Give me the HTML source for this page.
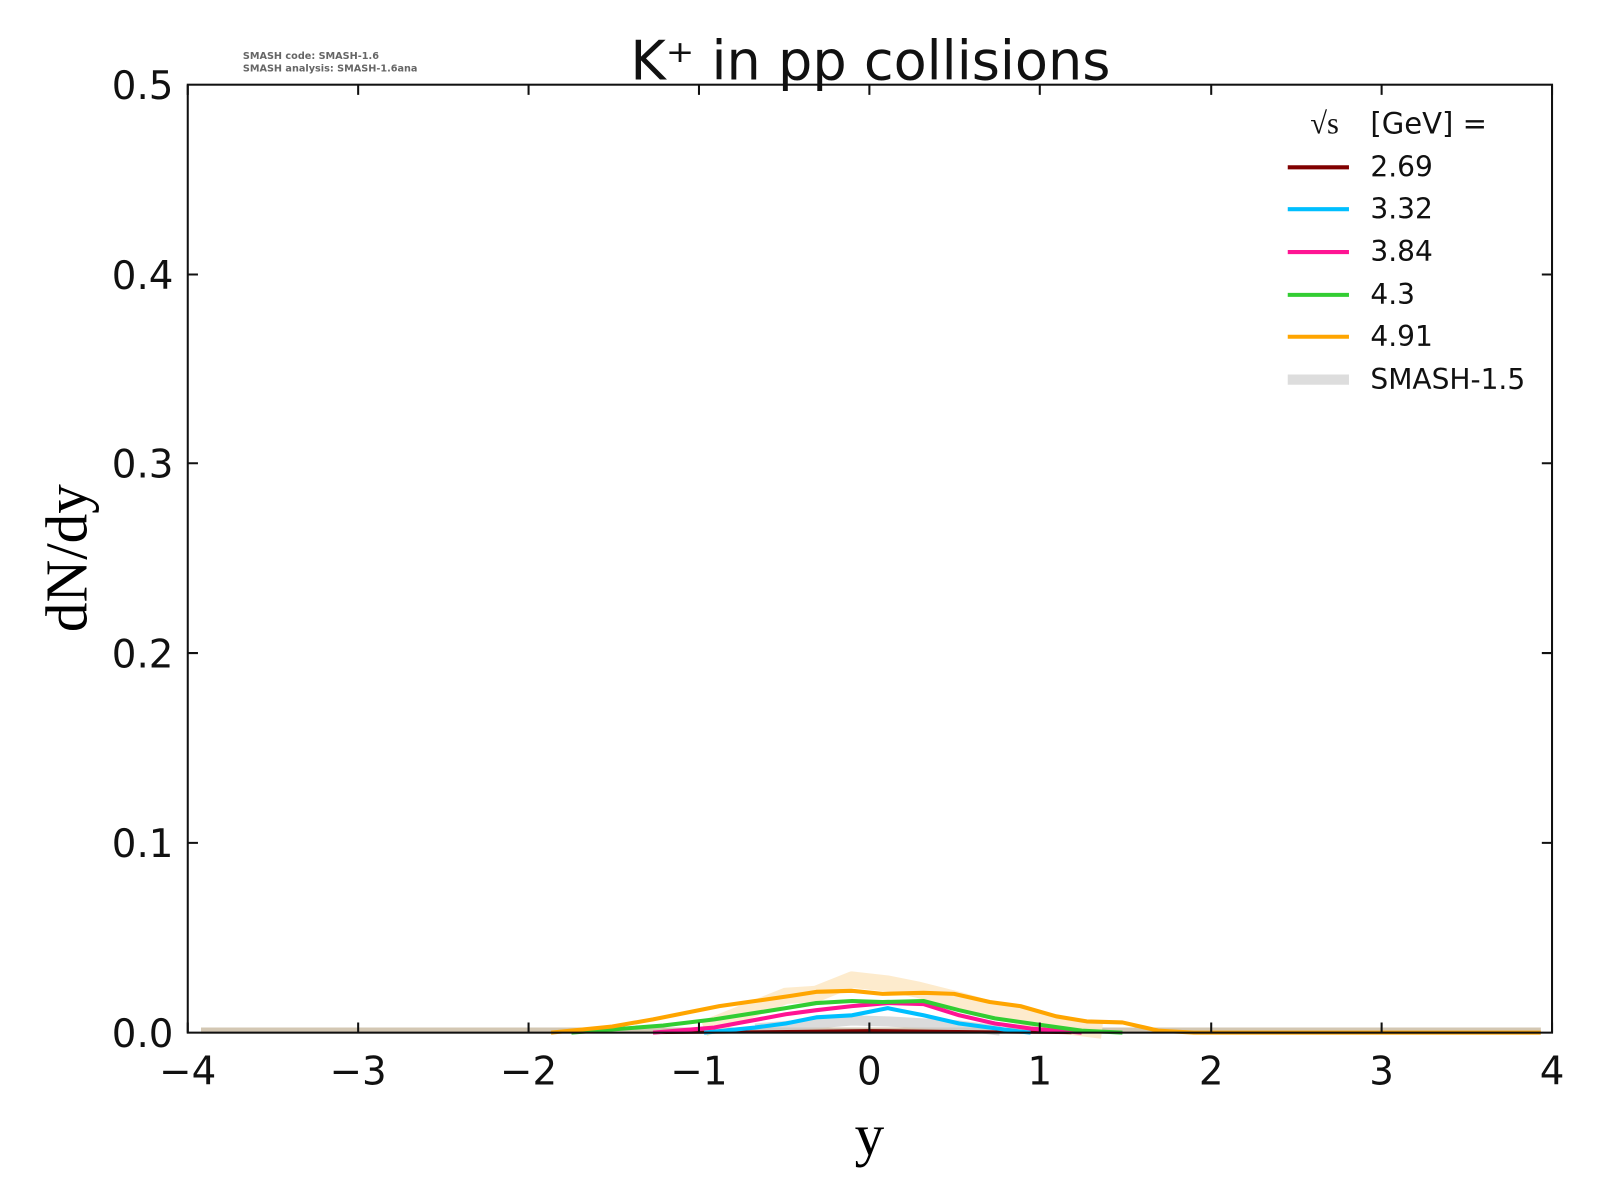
<!DOCTYPE html>
<html><head><style>body{margin:0;background:#fff}svg{display:block}text{font-family:"DejaVu Sans","Liberation Sans",sans-serif}</style></head>
<body>
<svg width="1600" height="1200" viewBox="0 0 1600 1200" xmlns="http://www.w3.org/2000/svg">
<rect width="1600" height="1200" fill="#fff"/>
<g transform="scale(1.0204)">
<text x="238" y="58" font-size="9.5" fill="#666" font-weight="bold">SMASH code:      SMASH-1.6</text>
<text x="238" y="70" font-size="9.5" fill="#666" font-weight="bold">SMASH analysis: SMASH-1.6ana</text>
<text x="853" y="78" font-size="53" text-anchor="middle" fill="#111">K⁺ in pp collisions</text>
<g fill="none" stroke-linejoin="round">
<path d="M197,1010 H1510" stroke="#c8b9a0" stroke-width="6" opacity="0.8"/>
<path d="M690,1008 L740,988 L770,976 L800,974 L835,960 L870,964 L900,970 L940,980 L975,990 L1000,996 L1040,1005 L1080,1010" stroke="#fde9c8" stroke-width="16" opacity="0.9"/>
<path d="M740,1008 L800,1003 L835,1000 L870,1001 L940,1005 L980,1010" stroke="#ccc" stroke-width="10" opacity="0.7"/>
<path d="M640,1012 L760,1011 L850,1010 L950,1011 L1050,1012" stroke="#800000" stroke-width="3"/>
<path d="M690,1012 L740,1007 L770,1003 L800,997 L835,995 L870,988 L905,995 L940,1003 L1000,1011 L1010,1012" stroke="#00bfff" stroke-width="4"/>
<path d="M640,1012 L700,1007 L770,994 L800,990 L835,986 L870,983 L905,984 L940,995 L975,1003 L1010,1008 L1060,1012" stroke="#ff1493" stroke-width="4"/>
<path d="M560,1012 L650,1005 L700,999 L770,988 L800,983 L835,981 L865,982 L905,981 L940,990 L975,998 L1010,1003 L1060,1010 L1100,1012" stroke="#32cd32" stroke-width="4"/>
<path d="M540,1012 L600,1006 L640,999 L670,993 L705,986 L740,981 L775,976 L800,972 L835,971 L865,974 L905,973 L935,974 L970,982 L1000,986 L1035,996 L1065,1001 L1100,1002 L1135,1010 L1170,1012 L1510,1012" stroke="#ffa500" stroke-width="4"/>
</g>
<rect x="184" y="83" width="1337" height="929" fill="none" stroke="#111" stroke-width="2"/>
<g stroke="#111" stroke-width="2">
<path d="M184,1012v-10M351,1012v-10M518,1012v-10M685,1012v-10M852,1012v-10M1019,1012v-10M1187,1012v-10M1354,1012v-10M1521,1012v-10"/>
<path d="M184,83v10M351,83v10M518,83v10M685,83v10M852,83v10M1019,83v10M1187,83v10M1354,83v10M1521,83v10"/>
<path d="M184,826h10M184,640h10M184,454h10M184,269h10M1521,826h-10M1521,640h-10M1521,454h-10M1521,269h-10"/>
</g>
<g font-size="38" fill="#111" text-anchor="middle">
<text x="184" y="1063">−4</text><text x="351" y="1063">−3</text><text x="518" y="1063">−2</text><text x="685" y="1063">−1</text><text x="852" y="1063">0</text><text x="1019" y="1063">1</text><text x="1187" y="1063">2</text><text x="1354" y="1063">3</text><text x="1521" y="1063">4</text>
</g>
<g font-size="38" fill="#111" text-anchor="end">
<text x="170" y="1026">0.0</text><text x="170" y="840">0.1</text><text x="170" y="654">0.2</text><text x="170" y="468">0.3</text><text x="170" y="283">0.4</text><text x="170" y="97">0.5</text>
</g>
<text x="852" y="1132" font-size="58" text-anchor="middle" style="font-family:'Liberation Serif',serif">y</text>
<text transform="translate(85,547) rotate(-90)" font-size="58" text-anchor="middle" style="font-family:'Liberation Serif',serif">dN/dy</text>
<text x="1284" y="131" font-size="30" style="font-family:'Liberation Serif',serif" fill="#111">√s</text>
<text x="1343" y="131" font-size="28.5" fill="#111">[GeV] =</text>
<g stroke-width="4">
<path d="M1262,164h60" stroke="#800000"/><path d="M1262,205h60" stroke="#00bfff"/><path d="M1262,247h60" stroke="#ff1493"/><path d="M1262,289h60" stroke="#32cd32"/><path d="M1262,330h60" stroke="#ffa500"/><path d="M1262,372h60" stroke="#ddd" stroke-width="10"/>
</g>
<g font-size="27.5" fill="#111">
<text x="1343" y="173">2.69</text><text x="1343" y="214">3.32</text><text x="1343" y="256">3.84</text><text x="1343" y="298">4.3</text><text x="1343" y="339">4.91</text><text x="1343" y="381">SMASH-1.5</text>
</g>
</g>
</svg>
</body></html>
